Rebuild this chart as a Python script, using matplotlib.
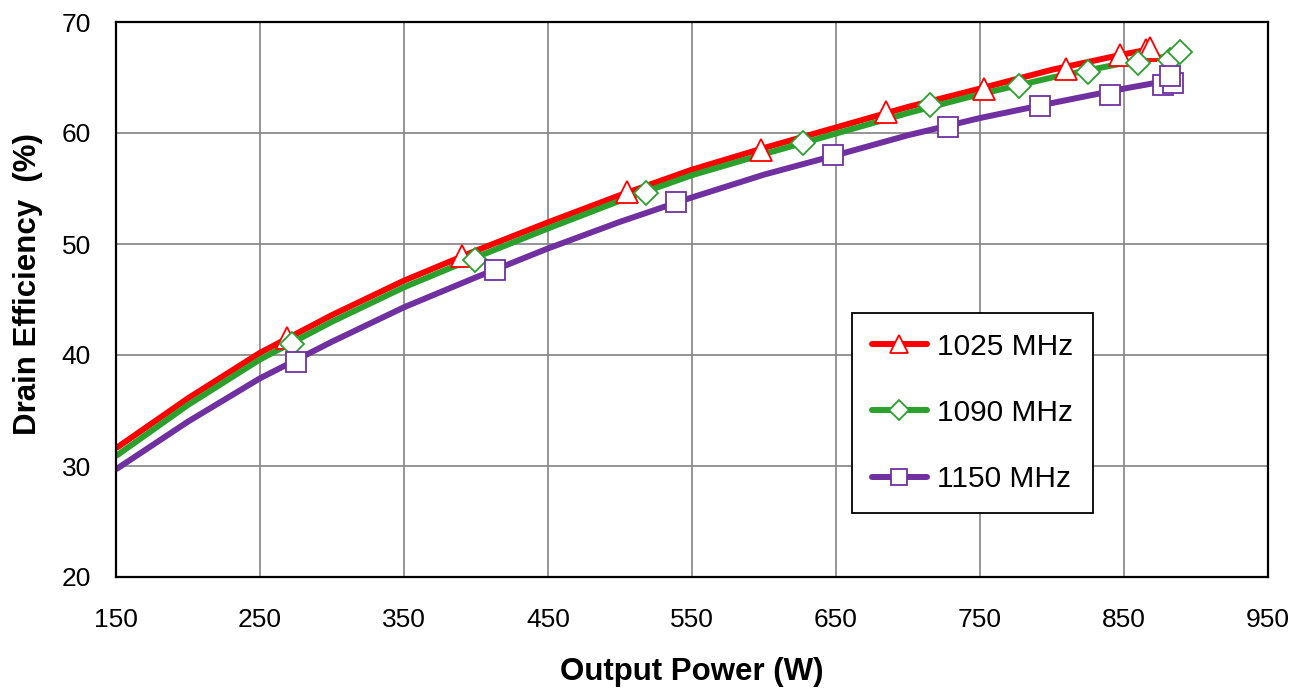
import matplotlib
matplotlib.use("Agg")
import matplotlib.pyplot as plt

plt.rcParams['font.family'] = ['Liberation Sans', 'DejaVu Sans']

# measured points (markers)
p_1025 = [269, 390, 505, 598, 685, 753, 810, 847, 865, 868]
e_1025 = [41.5, 48.9, 54.7, 58.5, 61.9, 64.0, 65.8, 67.0, 67.5, 67.7]
p_1090 = [272, 399, 518, 627, 715, 777, 825, 860, 882, 889]
e_1090 = [41.0, 48.6, 54.6, 59.1, 62.5, 64.2, 65.5, 66.3, 66.6, 67.3]
p_1150 = [275, 413, 539, 648, 728, 792, 840, 877, 884, 882]
e_1150 = [39.4, 47.7, 53.8, 58.0, 60.5, 62.4, 63.4, 64.3, 64.5, 65.1]

# trend curves
tp_1025 = [150, 200, 250, 300, 350, 400, 450, 500, 550, 600, 650, 700, 750, 800, 850, 862]
te_1025 = [31.6, 36.1, 40.2, 43.6, 46.7, 49.4, 51.95, 54.4, 56.7, 58.65, 60.5, 62.35, 64.0, 65.7, 67.1, 67.4]
tp_1090 = [150, 200, 250, 300, 350, 400, 450, 500, 550, 600, 650, 700, 750, 800, 850, 880]
te_1090 = [30.9, 35.5, 39.6, 43.0, 46.1, 48.8, 51.4, 53.9, 56.2, 58.1, 59.95, 61.8, 63.5, 65.0, 66.3, 66.9]
tp_1150 = [150, 200, 250, 300, 350, 400, 450, 500, 550, 600, 650, 700, 750, 800, 850, 880]
te_1150 = [29.7, 34.0, 37.9, 41.2, 44.3, 47.0, 49.6, 52.0, 54.2, 56.25, 58.0, 59.8, 61.35, 62.7, 64.0, 64.7]

labels = ["1025 MHz", "1090 MHz", "1150 MHz"]
colors = ["#ff0000", "#2ca02c", "#7030a0"]
markers = ["^", "D", "s"]
msizes = [16, 12.5, 14]

fig = plt.figure(figsize=(13.07, 6.9), dpi=100)
ax = fig.add_axes([116 / 1307, 1 - 577 / 690, (1268 - 116) / 1307, (577 - 22) / 690])

series = [(p_1025, e_1025, tp_1025, te_1025),
          (p_1090, e_1090, tp_1090, te_1090),
          (p_1150, e_1150, tp_1150, te_1150)]

handles = []
for (p, e, tp, te), lab, c, m, ms in zip(series, labels, colors, markers, msizes):
    ax.plot(tp, te, color=c, lw=4.3, solid_capstyle='butt', solid_joinstyle='round', zorder=3)
    ax.plot(p, e, linestyle='none', marker=m, ms=ms, mfc='white', mec=c, mew=1.3, zorder=4)
    h, = ax.plot([], [], color=c, lw=4.3, marker=m, ms=ms * 0.85, mfc='white', mec=c,
                 mew=1.3, solid_capstyle='round')
    handles.append(h)

ax.set_xlim(150, 950)
ax.set_ylim(20, 70)
ax.set_xticks(range(150, 951, 100))
ax.set_yticks(range(20, 71, 10))
ax.grid(True, color='#8c8c8c', lw=1.3)
ax.set_axisbelow(True)
ax.tick_params(length=0, labelsize=19)
ax.tick_params(axis='x', pad=22)
ax.tick_params(axis='y', pad=18)
for s in ax.spines.values():
    s.set_color('black')
    s.set_linewidth(1.6)
    s.set_zorder(5)

ax.set_xlabel("Output Power (W)", fontsize=22.5, fontweight='bold', va='center')
ax.xaxis.set_label_coords(0.5, -0.171)
ax.set_ylabel("Drain Efficiency  (%)", fontsize=22.5, fontweight='bold', va='center')
ax.yaxis.set_label_coords(-0.0764, 0.527)

leg = ax.legend(handles, labels, loc='upper left', bbox_to_anchor=(852 / 1307, 1 - 313 / 690),
                bbox_transform=fig.transFigure, borderaxespad=0, fontsize=21.5,
                fancybox=False, framealpha=1, edgecolor='black', handlelength=1.85,
                handletextpad=0.35, labelspacing=1.28, borderpad=0.66)
leg.get_frame().set_linewidth(1.3)

fig.savefig("out.png", dpi=100)
